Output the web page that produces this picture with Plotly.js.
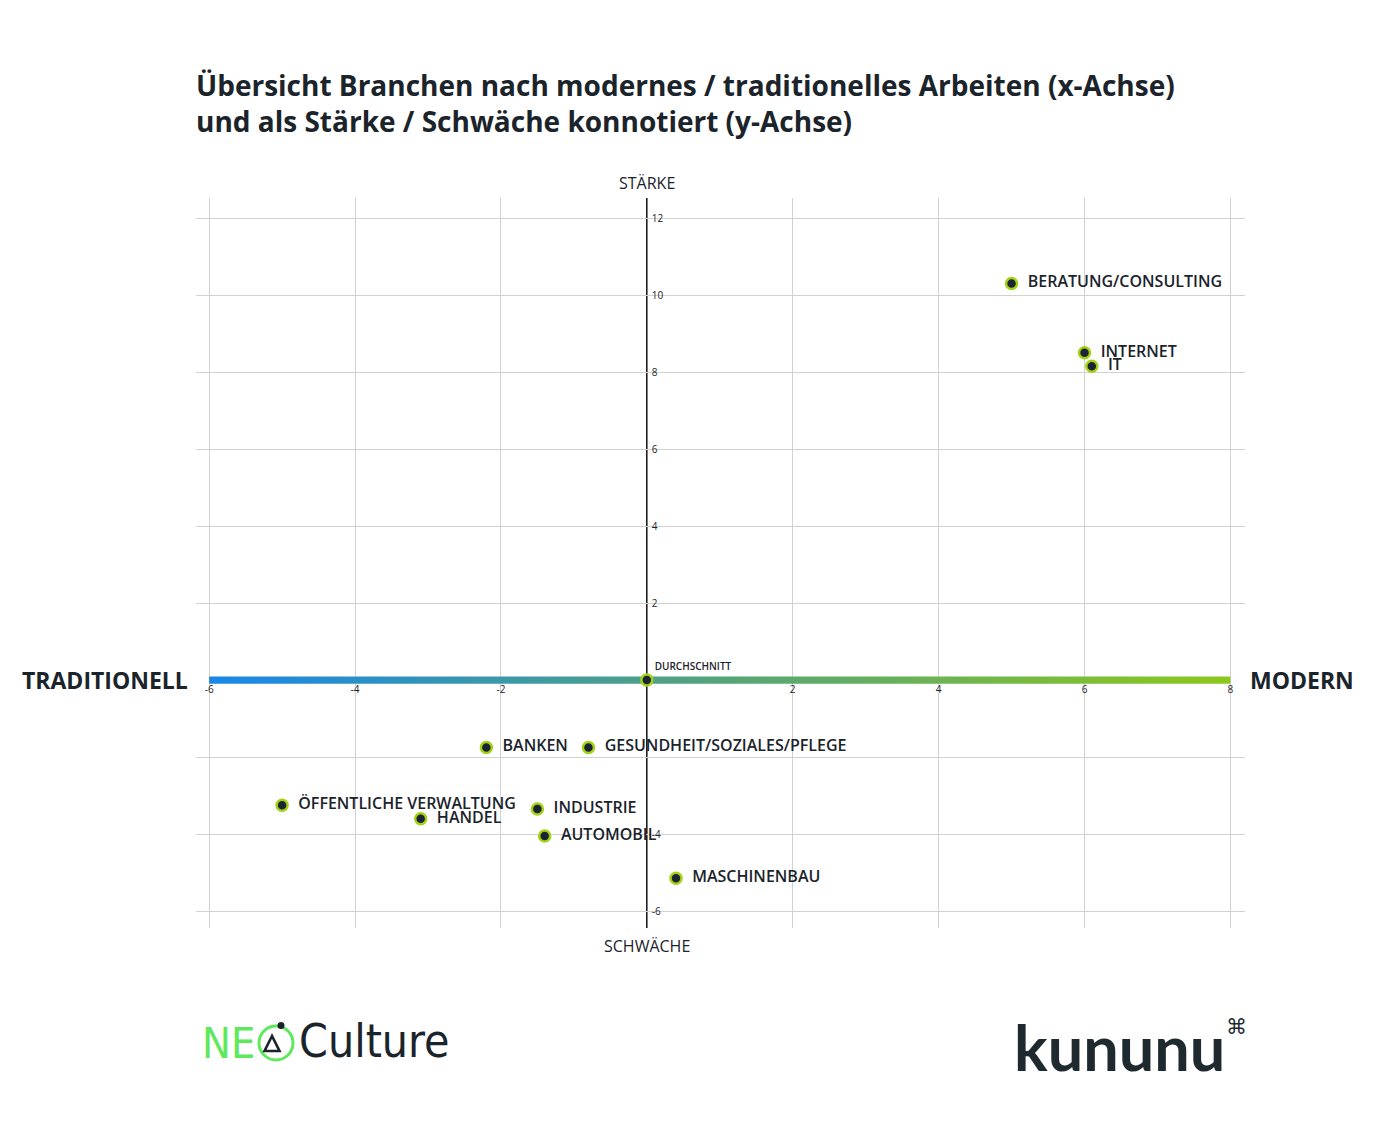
<!DOCTYPE html>
<html>
<head>
<meta charset="utf-8">
<script src="https://cdn.plot.ly/plotly-3.0.1.min.js"></script>
<style>
  html, body { margin: 0; padding: 0; background: #ffffff; }
  #chart { width: 1400px; height: 1139px; }
</style>
</head>
<body>
<div id="chart"></div>
<script>
// ---- data ----
const branchen = ["BERATUNG/CONSULTING", "INTERNET", "IT", "DURCHSCHNITT", "BANKEN",
  "GESUNDHEIT/SOZIALES/PFLEGE", "ÖFFENTLICHE VERWALTUNG", "HANDEL", "INDUSTRIE",
  "AUTOMOBIL", "MASCHINENBAU"];
const modernTraditionell = [5.0, 6.0, 6.1, 0.0, -2.2, -0.8, -5.0, -3.1, -1.5, -1.4, 0.4];
const staerkeSchwaeche = [10.3, 8.5, 8.15, 0.0, -1.75, -1.75, -3.25, -3.6, -3.35, -4.05, -5.15];
const xTickVals = [-6, -4, -2, 2, 4, 6, 8];
const xTickText = ["-6", "-4", "-2", "2", "4", "6", "8"];
const yTickVals = [-6, -4, -2, 2, 4, 6, 8, 10, 12];
const yTickText = ["-6", "-4", "", "2", "4", "6", "8", "10", "12"];

// ---- layout constants ----
const W = 1400, H = 1139;
const L = 196, R = 155, T = 198, B = 211;
const xRange = [-6.18, 8.2];
const yRange = [-6.44, 12.52];
const plotW = W - L - R, plotH = H - T - B;
const px = p => (p - L) / plotW;          // pixel x -> paper x
const py = p => (H - B - p) / plotH;      // pixel y -> paper y
const xZeroPos = (0 - xRange[0]) / (xRange[1] - xRange[0]);
const yZeroPos = (0 - yRange[0]) / (yRange[1] - yRange[0]);
const barHalf = 3.6 * (yRange[1] - yRange[0]) / plotH;
const barX0 = xTickVals[0], barX1 = xTickVals[xTickVals.length - 1];

const dark = "#1b232b";
const isAvg = b => b === "DURCHSCHNITT";
const labels = branchen.map(b => isAvg(b) ? b : "\u00a0\u00a0" + b);
const textSizes = branchen.map(b => isAvg(b) ? 10 : 16);
const textPos = branchen.map(b => isAvg(b) ? "top right" : "middle right");

const traces = [
  {
    type: "scatter", mode: "lines",
    x: [barX0, barX1, barX1, barX0, barX0],
    y: [-barHalf, -barHalf, barHalf, barHalf, -barHalf],
    fill: "toself",
    fillgradient: { type: "horizontal", colorscale: [[0, "#1a87e8"], [0.5, "#55a47a"], [1, "#8cc81c"]] },
    line: { width: 0, color: "rgba(0,0,0,0)" },
    hoverinfo: "skip", showlegend: false
  },
  {
    type: "scatter", mode: "markers+text",
    x: modernTraditionell, y: staerkeSchwaeche, text: labels,
    textposition: textPos,
    textfont: { family: "Open Sans", size: textSizes, color: dark, weight: 600 },
    marker: { size: 11, color: "#1c2333", line: { color: "#a2d214", width: 2.5 } },
    cliponaxis: false, showlegend: false
  }
];

// triangle path for NEO logo (pixel coords -> paper)
const tri = [[272, 1036], [264.5, 1051], [279.5, 1051]];
const triPath = "M " + tri.map(p => px(p[0]) + "," + py(p[1])).join(" L ") + " Z";

const shapes = [
  { type: "circle", xref: "paper", yref: "paper",
    x0: px(259), x1: px(293), y0: py(1060), y1: py(1026),
    line: { color: "#5ee85c", width: 3 }, fillcolor: "rgba(0,0,0,0)" },
  { type: "circle", xref: "paper", yref: "paper",
    x0: px(277.5), x1: px(284.5), y0: py(1029), y1: py(1022),
    line: { width: 0 }, fillcolor: dark },
  { type: "path", xref: "paper", yref: "paper", path: triPath,
    line: { color: dark, width: 2.6 }, fillcolor: "rgba(0,0,0,0)" },
  { type: "line", xref: "x", yref: "paper", x0: 0, x1: 0, y0: 0, y1: 1,
    line: { color: "#111111", width: 1.5 }, layer: "below" }
];

const annotations = [
  { text: "STÄRKE", x: 0, xref: "x", y: py(183), yref: "paper", showarrow: false,
    font: { family: "Open Sans", size: 16, color: dark }, xanchor: "center", yanchor: "middle" },
  { text: "SCHWÄCHE", x: 0, xref: "x", y: py(946), yref: "paper", showarrow: false,
    font: { family: "Open Sans", size: 16, color: dark }, xanchor: "center", yanchor: "middle" },
  { text: "<b>TRADITIONELL</b>", x: px(190), xref: "paper", y: 0, yref: "y", showarrow: false,
    font: { family: "Open Sans", size: 23, color: dark }, xanchor: "right", yanchor: "middle" },
  { text: "<b>MODERN</b>", x: px(1248), xref: "paper", y: 0, yref: "y", showarrow: false,
    font: { family: "Open Sans", size: 23, color: dark }, xanchor: "left", yanchor: "middle" },
  // NEO Culture logo
  { text: "NE", x: px(200), xref: "paper", y: py(1043), yref: "paper", showarrow: false,
    font: { family: "DejaVu Sans Condensed", size: 43, color: "#5ee85c" }, xanchor: "left", yanchor: "middle" },
  { text: "Culture", x: px(297), xref: "paper", y: py(1041), yref: "paper", showarrow: false,
    font: { family: "DejaVu Sans Condensed", size: 46, color: dark }, xanchor: "left", yanchor: "middle" },
  // kununu logo
  { text: "<b>kununu</b>", x: px(1012), xref: "paper", y: py(1046), yref: "paper", showarrow: false,
    font: { family: "Lato", size: 63, color: "#1e2930" }, xanchor: "left", yanchor: "middle" },
  { text: "⌘", x: px(1236), xref: "paper", y: py(1027), yref: "paper", showarrow: false,
    font: { family: "DejaVu Sans", size: 21, color: "#1e2930" }, xanchor: "center", yanchor: "middle" }
];

const layout = {
  width: W, height: H,
  paper_bgcolor: "#ffffff", plot_bgcolor: "#ffffff",
  margin: { l: L, r: R, t: T, b: B, pad: 0 },
  title: {
    text: "Übersicht Branchen nach modernes / traditionelles Arbeiten (x-Achse)<br>und als Stärke / Schwäche konnotiert (y-Achse)",
    x: 196 / W, xanchor: "left", xref: "container",
    y: 1 - 96 / H, yanchor: "top", yref: "container",
    font: { family: "Open Sans", size: 28, color: dark, weight: 700 },
    automargin: false
  },
  xaxis: {
    range: xRange, tickvals: xTickVals, ticktext: xTickText,
    anchor: "free", position: yZeroPos, side: "bottom",
    showgrid: true, gridcolor: "#d2d2d2", gridwidth: 1,
    zeroline: false, showline: false, ticks: "", ticklabelstandoff: 2,
    tickfont: { family: "Open Sans", size: 10, color: dark },
    fixedrange: true
  },
  yaxis: {
    range: yRange, tickvals: yTickVals, ticktext: yTickText,
    anchor: "free", position: xZeroPos, side: "right",
    showgrid: true, gridcolor: "#d2d2d2", gridwidth: 1,
    zeroline: false, showline: false, ticks: "", ticklabelstandoff: 4,
    tickfont: { family: "Open Sans", size: 10, color: dark },
    fixedrange: true
  },
  shapes: shapes,
  annotations: annotations,
  showlegend: false
};

Plotly.newPlot("chart", traces, layout, { displayModeBar: false, staticPlot: true });
</script>
</body>
</html>
